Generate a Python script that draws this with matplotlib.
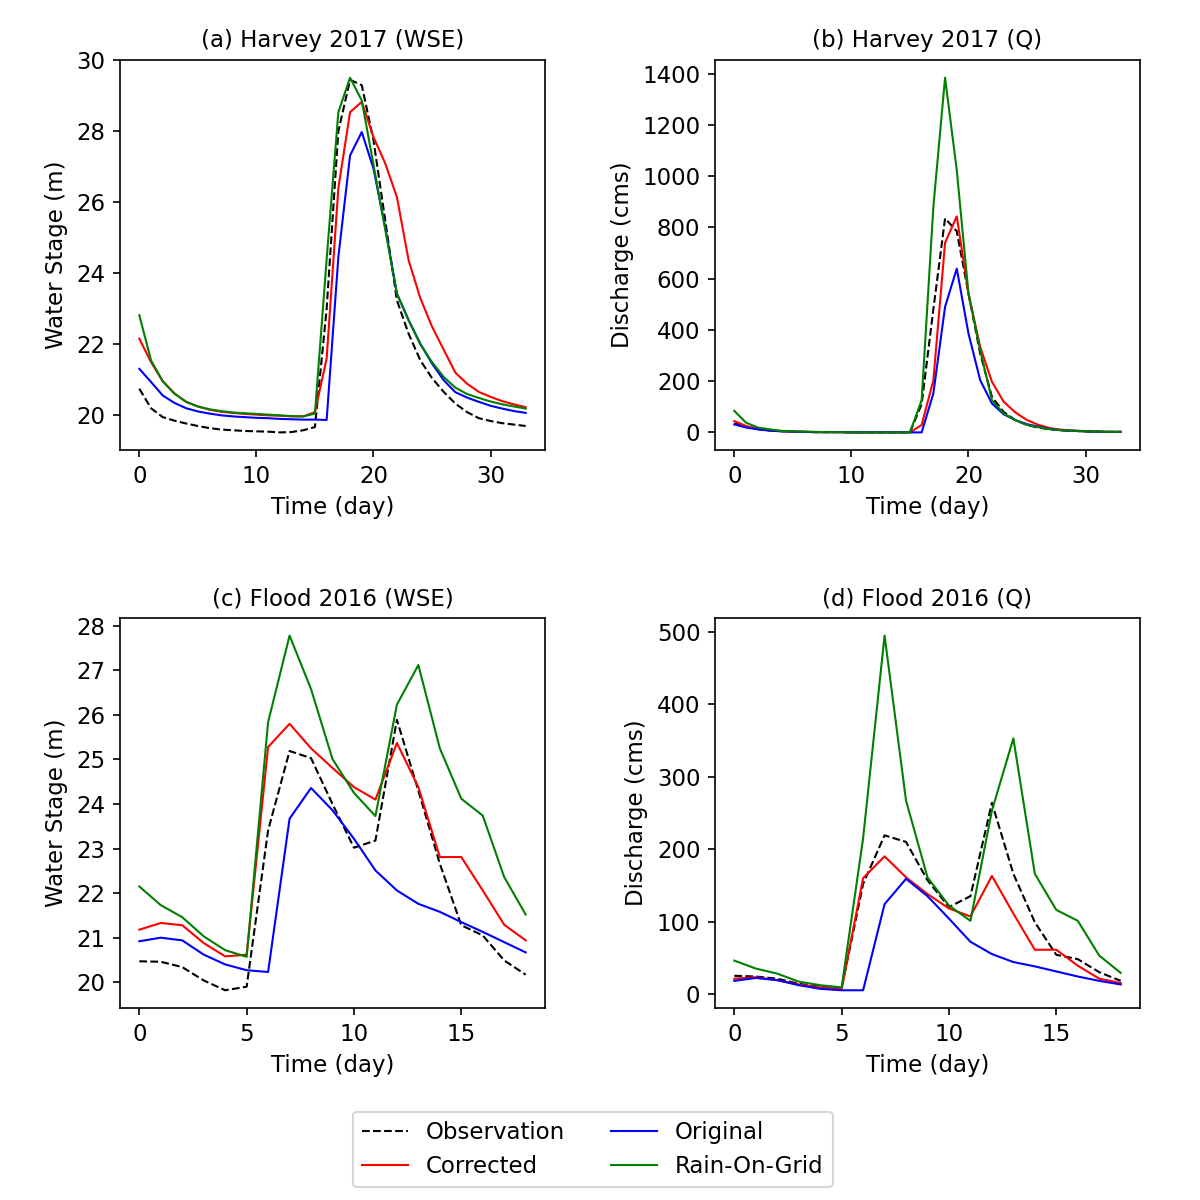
import numpy as np
import matplotlib
matplotlib.use("Agg")
import matplotlib.pyplot as plt
from matplotlib.ticker import MultipleLocator

plt.rcParams['font.size'] = 11

# --- DATE: Harvey 2017 (zilele 0..33) ---
days_h = np.arange(34)

obs_wse_h = [20.75, 20.2, 19.95, 19.85, 19.77, 19.7, 19.64, 19.6, 19.58, 19.56,
             19.55, 19.54, 19.52, 19.53, 19.58, 19.67, 23.0, 28.0, 29.45, 29.3,
             27.75, 25.5, 23.24, 22.3, 21.55, 21.05, 20.66, 20.33, 20.09, 19.92,
             19.84, 19.78, 19.74, 19.7]
cor_wse_h = [22.16, 21.5, 20.96, 20.62, 20.38, 20.25, 20.16, 20.1, 20.07, 20.04,
             20.02, 20.0, 19.99, 19.97, 19.97, 20.09, 21.6, 26.4, 28.54, 28.83,
             27.84, 27.1, 26.15, 24.37, 23.3, 22.5, 21.85, 21.2, 20.89, 20.66,
             20.52, 20.4, 20.31, 20.23]
org_wse_h = [21.31, 20.94, 20.56, 20.35, 20.2, 20.11, 20.05, 20.0, 19.97, 19.95,
             19.93, 19.92, 19.9, 19.89, 19.88, 19.88, 19.87, 24.46, 27.32, 27.98,
             26.95, 25.3, 23.43, 22.68, 22.02, 21.46, 20.99, 20.65, 20.5, 20.38,
             20.27, 20.19, 20.12, 20.07]
rog_wse_h = [22.82, 21.55, 20.96, 20.61, 20.38, 20.25, 20.17, 20.12, 20.08, 20.06,
             20.04, 20.02, 20.0, 19.98, 19.97, 20.05, 24.4, 28.54, 29.51, 28.87,
             27.06, 25.24, 23.43, 22.68, 22.0, 21.5, 21.08, 20.78, 20.6, 20.49,
             20.39, 20.31, 20.25, 20.19]

obs_q_h = [35, 22, 13, 8, 5, 3, 2, 1, 1, 1, 0, 0, 0, 0, 0, 0, 110, 480, 835, 785,
           542, 308, 139, 80, 48, 29, 18, 12, 8, 6, 4, 3, 2, 2]
cor_q_h = [44, 25, 13, 8, 5, 3, 2, 1, 1, 1, 0, 0, 0, 0, 0, 0, 29, 203, 740, 843,
           542, 334, 198, 120, 78, 48, 29, 16, 10, 7, 5, 3, 2, 2]
org_q_h = [31, 19, 12, 7, 4, 3, 2, 1, 1, 1, 0, 0, 0, 0, 0, 0, 0, 152, 490, 639,
           386, 204, 113, 71, 48, 32, 22, 13, 8, 6, 4, 3, 2, 2]
rog_q_h = [84, 38, 19, 12, 6, 4, 3, 2, 1, 1, 1, 0, 0, 0, 0, 0, 126, 880, 1384, 1023,
           542, 321, 126, 74, 48, 29, 20, 12, 8, 6, 4, 3, 2, 2]

# --- DATE: Flood 2016 (zilele 0..18) ---
days_f = np.arange(19)

obs_wse_f = [20.47, 20.46, 20.34, 20.04, 19.82, 19.9, 23.41, 25.19, 25.03, 24.0,
             23.02, 23.18, 25.89, 24.3, 22.66, 21.28, 21.05, 20.49, 20.17]
cor_wse_f = [21.18, 21.33, 21.28, 20.88, 20.58, 20.62, 25.28, 25.8, 25.25, 24.81,
             24.38, 24.1, 25.37, 24.38, 22.81, 22.81, 22.06, 21.29, 20.94]
org_wse_f = [20.92, 21.0, 20.94, 20.62, 20.4, 20.27, 20.23, 23.67, 24.36, 23.86,
             23.22, 22.51, 22.06, 21.76, 21.58, 21.35, 21.13, 20.9, 20.67]
rog_wse_f = [22.15, 21.73, 21.46, 21.03, 20.72, 20.57, 25.84, 27.78, 26.58, 25.01,
             24.25, 23.73, 26.23, 27.12, 25.25, 24.12, 23.74, 22.36, 21.52]

obs_q_f = [25, 24, 21, 14, 10, 8, 152, 219, 210, 157, 120, 135, 264, 166, 99, 54,
           48, 30, 18]
cor_q_f = [21, 23, 19, 13, 9, 7, 160, 190, 161, 138, 118, 107, 163, 111, 61, 61,
           39, 21, 15]
org_q_f = [18, 22, 19, 12, 7, 5, 5, 124, 159, 135, 104, 72, 55, 44, 38, 31, 24,
           18, 13]
rog_q_f = [46, 35, 28, 17, 12, 9, 215, 495, 267, 161, 122, 101, 253, 353, 166, 116,
           101, 53, 29]

panels = [
    ("(a) Harvey 2017 (WSE)", "Water Stage (m)", days_h, [obs_wse_h, cor_wse_h, org_wse_h, rog_wse_h]),
    ("(b) Harvey 2017 (Q)", "Discharge (cms)", days_h, [obs_q_h, cor_q_h, org_q_h, rog_q_h]),
    ("(c) Flood 2016 (WSE)", "Water Stage (m)", days_f, [obs_wse_f, cor_wse_f, org_wse_f, rog_wse_f]),
    ("(d) Flood 2016 (Q)", "Discharge (cms)", days_f, [obs_q_f, cor_q_f, org_q_f, rog_q_f]),
]
labels = ["Observation", "Corrected", "Original", "Rain-On-Grid"]
styles = [("k", "--"), ("r", "-"), ("b", "-"), ("g", "-")]

# --- PLOTARE ---
fig, axes = plt.subplots(2, 2, figsize=(8, 8), dpi=150)
for ax, (title, ylabel, t, series) in zip(axes.flat, panels):
    for s, lab, (c, ls) in zip(series, labels, styles):
        ax.plot(t, s, color=c, linestyle=ls, linewidth=1.0, label=lab)
    ax.set_title(title, fontsize=11)
    ax.set_xlabel("Time (day)")
    ax.set_ylabel(ylabel)

# panoul (c) are tick la fiecare metru
axes[1, 0].yaxis.set_major_locator(MultipleLocator(1))

handles, labs = axes[0, 0].get_legend_handles_labels()
fig.legend(handles, labs, loc="center", bbox_to_anchor=(0.494, 0.042), ncol=2,
           columnspacing=2.0)

plt.subplots_adjust(left=0.1, right=0.95, top=0.95, bottom=0.16, wspace=0.4, hspace=0.43)
plt.savefig("out.png", dpi=150)
